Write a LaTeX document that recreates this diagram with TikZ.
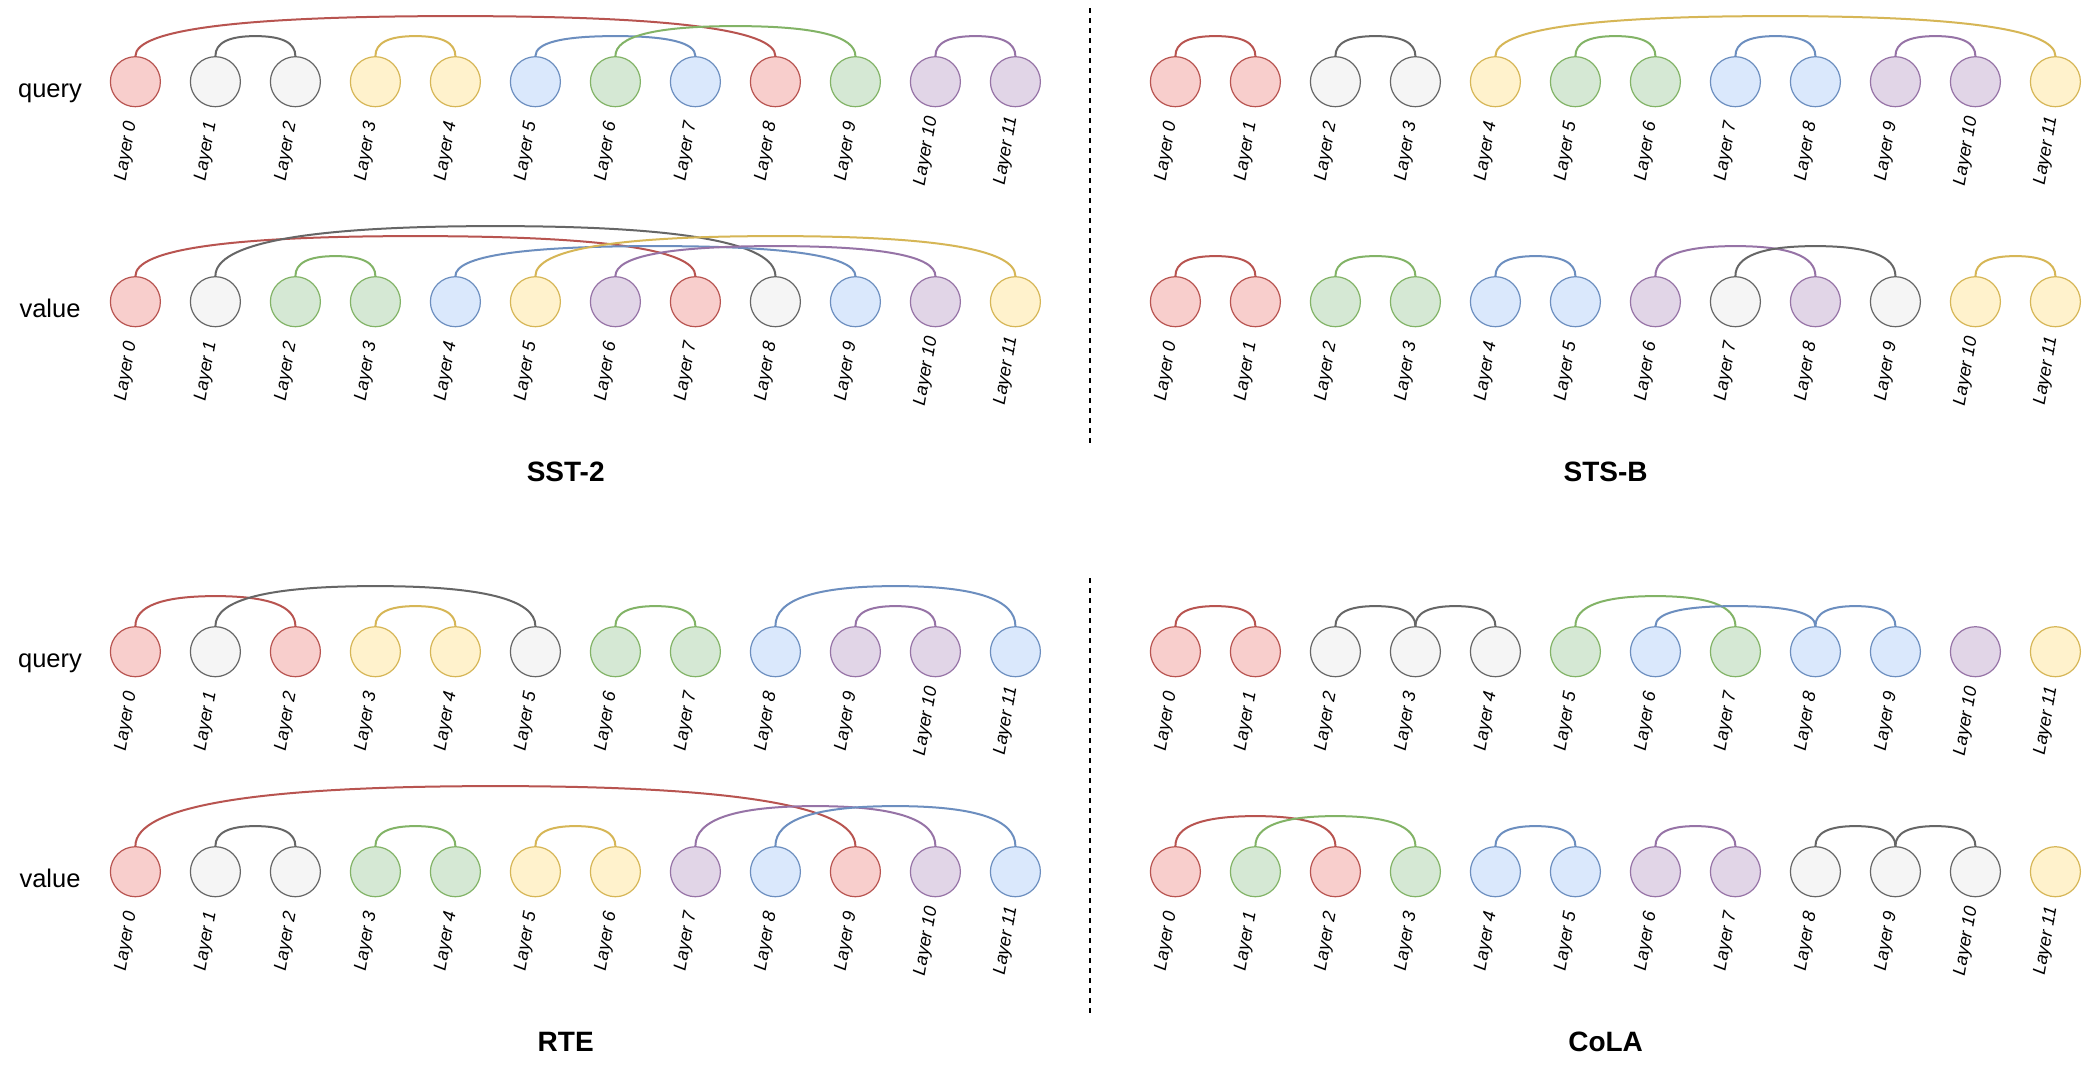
\documentclass[tikz,border=0pt]{standalone}
\usepackage{fontspec}
\setmainfont{Liberation Sans}
\usetikzlibrary{calc}
\definecolor{redF}{HTML}{F8CECC}\definecolor{redS}{HTML}{B85450}
\definecolor{gryF}{HTML}{F5F5F5}\definecolor{gryS}{HTML}{666666}
\definecolor{yelF}{HTML}{FFF2CC}\definecolor{yelS}{HTML}{D6B656}
\definecolor{bluF}{HTML}{DAE8FC}\definecolor{bluS}{HTML}{6C8EBF}
\definecolor{grnF}{HTML}{D5E8D4}\definecolor{grnS}{HTML}{82B366}
\definecolor{purF}{HTML}{E1D5E7}\definecolor{purS}{HTML}{9673A6}
\tikzset{
  lay/.style={circle, draw, minimum size=25pt, inner sep=0pt, line width=0.6pt},
  fR/.style={fill=redF, draw=redS}, fG/.style={fill=gryF, draw=gryS},
  fY/.style={fill=yelF, draw=yelS}, fB/.style={fill=bluF, draw=bluS},
  fN/.style={fill=grnF, draw=grnS}, fP/.style={fill=purF, draw=purS},
  lnk/.style={line width=1pt},
  eR/.style={lnk, draw=redS}, eG/.style={lnk, draw=gryS},
  eY/.style={lnk, draw=yelS}, eB/.style={lnk, draw=bluS},
  eN/.style={lnk, draw=grnS}, eP/.style={lnk, draw=purS},
  lbl/.style={rotate=80, inner sep=0pt, font=\itshape\fontsize{9}{10.8}\selectfont},
  rowlbl/.style={inner sep=0pt, anchor=base, font=\fontsize{12.75}{15}\selectfont},
  ttl/.style={inner sep=0pt, anchor=base, font=\bfseries\fontsize{14}{17}\selectfont},
  sep/.style={line width=1pt, dash pattern=on 2.5pt off 2.5pt}
}
% arc between the tops of two layer nodes (draw.io curved orthogonal edge)
\newcommand\linkarc[4]{%
  \path (#1.north) ++(0,-#3) coordinate (pa);
  \path (#2.north) ++(0,-#3) coordinate (pb);
  \path ($(pa)!0.5!(pb)$) coordinate (pm);
  \draw[#4] (#1.north) .. controls ($(#1.north)!0.6667!(pa)$) and ($(pm)!0.6667!(pa)$) .. (pm)
     .. controls ($(pm)!0.6667!(pb)$) and ($(#2.north)!0.6667!(pb)$) .. (#2.north);
}
\newcommand\layrow[4]{%
  \foreach \c [count=\i from 0] in {#4} {
    \node[lay, f\c] (#1\i) at ({#2+80*\i},{#3}) {};
    \node[lbl] (#1L\i) at ({#2+80*\i-9},{#3+69.5}) {Layer \i};
  }
}
\begin{document}
\begin{tikzpicture}[x=0.5pt, y=-0.5pt]
\path[use as bounding box, fill=white] (0,0) rectangle (2086,1071);

% separators
\coordinate (s1a) at (1090,8);   \coordinate (s1b) at (1090,446);
\coordinate (s2a) at (1090,578); \coordinate (s2b) at (1090,1015);
\draw[sep] (s1a) -- (s1b);
\draw[sep] (s2a) -- (s2b);

% ---------- SST-2 ----------
\node[rowlbl] (aqT) at (50,97) {query};
\node[rowlbl] (avT) at (50,317) {value};
\layrow{aq}{135.4}{81.7}{R,G,G,Y,Y,B,N,B,R,N,P,P}
\layrow{av}{135.4}{301.7}{R,G,N,N,B,Y,P,R,G,B,P,Y}
\linkarc{aq0}{aq8}{40}{eR}
\linkarc{aq1}{aq2}{20}{eG}
\linkarc{aq3}{aq4}{20}{eY}
\linkarc{aq5}{aq7}{20}{eB}
\linkarc{aq6}{aq9}{30}{eN}
\linkarc{aq10}{aq11}{20}{eP}
\linkarc{av0}{av7}{40}{eR}
\linkarc{av1}{av8}{50}{eG}
\linkarc{av2}{av3}{20}{eN}
\linkarc{av4}{av9}{30}{eB}
\linkarc{av5}{av11}{40}{eY}
\linkarc{av6}{av10}{30}{eP}
\node[ttl] (aT) at (565.7,481.7) {SST-2};

% ---------- STS-B ----------
\layrow{bq}{1175.4}{81.7}{R,R,G,G,Y,N,N,B,B,P,P,Y}
\layrow{bv}{1175.4}{301.7}{R,R,N,N,B,B,P,G,P,G,Y,Y}
\linkarc{bq0}{bq1}{20}{eR}
\linkarc{bq2}{bq3}{20}{eG}
\linkarc{bq4}{bq11}{40}{eY}
\linkarc{bq5}{bq6}{20}{eN}
\linkarc{bq7}{bq8}{20}{eB}
\linkarc{bq9}{bq10}{20}{eP}
\linkarc{bv0}{bv1}{20}{eR}
\linkarc{bv2}{bv3}{20}{eN}
\linkarc{bv4}{bv5}{20}{eB}
\linkarc{bv6}{bv8}{30}{eP}
\linkarc{bv7}{bv9}{30}{eG}
\linkarc{bv10}{bv11}{20}{eY}
\node[ttl] (bT) at (1605.6,481.7) {STS-B};

% ---------- RTE ----------
\node[rowlbl] (cqT) at (50,667) {query};
\node[rowlbl] (cvT) at (50,887) {value};
\layrow{cq}{135.4}{651.7}{R,G,R,Y,Y,G,N,N,B,P,P,B}
\layrow{cv}{135.4}{871.7}{R,G,G,N,N,Y,Y,P,B,R,P,B}
\linkarc{cq0}{cq2}{30}{eR}
\linkarc{cq1}{cq5}{40}{eG}
\linkarc{cq3}{cq4}{20}{eY}
\linkarc{cq6}{cq7}{20}{eN}
\linkarc{cq8}{cq11}{40}{eB}
\linkarc{cq9}{cq10}{20}{eP}
\linkarc{cv0}{cv9}{60}{eR}
\linkarc{cv1}{cv2}{20}{eG}
\linkarc{cv3}{cv4}{20}{eN}
\linkarc{cv5}{cv6}{20}{eY}
\linkarc{cv7}{cv10}{40}{eP}
\linkarc{cv8}{cv11}{40}{eB}
\node[ttl] (cT) at (565.7,1051.7) {RTE};

% ---------- CoLA ----------
\layrow{dq}{1175.4}{651.7}{R,R,G,G,G,N,B,N,B,B,P,Y}
\layrow{dv}{1175.4}{871.7}{R,N,R,N,B,B,P,P,G,G,G,Y}
\linkarc{dq0}{dq1}{20}{eR}
\linkarc{dq2}{dq3}{20}{eG}
\linkarc{dq3}{dq4}{20}{eG}
\linkarc{dq5}{dq7}{30}{eN}
\linkarc{dq6}{dq8}{20}{eB}
\linkarc{dq8}{dq9}{20}{eB}
\linkarc{dv0}{dv2}{30}{eR}
\linkarc{dv1}{dv3}{30}{eN}
\linkarc{dv4}{dv5}{20}{eB}
\linkarc{dv6}{dv7}{20}{eP}
\linkarc{dv8}{dv9}{20}{eG}
\linkarc{dv9}{dv10}{20}{eG}
\node[ttl] (dT) at (1605.6,1051.7) {CoLA};
\end{tikzpicture}
\end{document}
